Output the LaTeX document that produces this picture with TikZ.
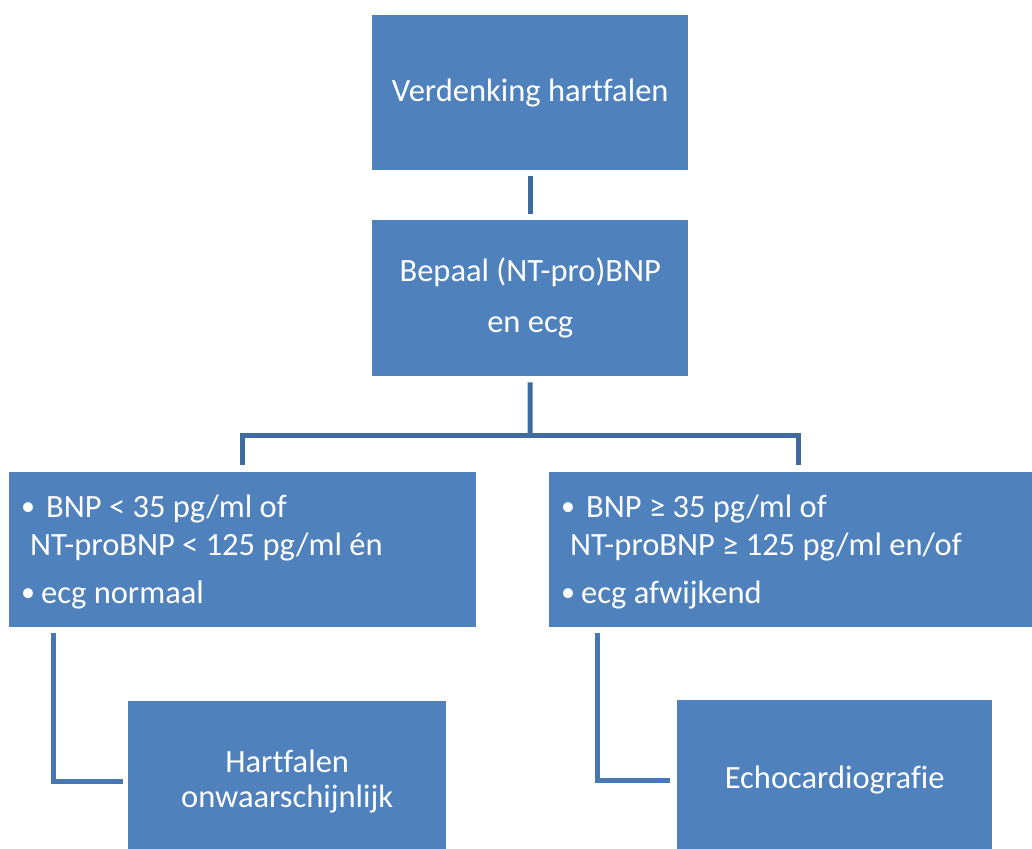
\documentclass[tikz,border=0pt]{standalone}
\usepackage{fontspec}
\setmainfont{Carlito}[Ligatures=NoCommon]
\usetikzlibrary{positioning}
\definecolor{boxblue}{HTML}{4F81BD}
\definecolor{lineblue}{HTML}{3F6B9E}
\definecolor{sideblue}{HTML}{4878B4}
\newcommand{\critdot}[1]{\makebox[#1][l]{\fontsize{28}{28}\selectfont\raisebox{2pt}{•}}}
\tikzset{
  stepbox/.style={rectangle, fill=boxblue, text=white, inner sep=0pt, align=center, font=\fontsize{32.5}{35}\selectfont},
  critbox/.style={rectangle, fill=boxblue, inner sep=0pt},
  crittext/.style={text=white, inner sep=0pt, align=left, font=\fontsize{32.5}{38}\selectfont},
  link/.style={draw=lineblue, line width=5pt},
  sidelink/.style={draw=sideblue, line width=5pt}
}

\begin{document}
\begin{tikzpicture}[x=1pt, y=-1pt]
  \useasboundingbox (0,0) rectangle (1032,848);
  \node[stepbox, anchor=north west, minimum width=316pt, minimum height=155pt] (suspect) at (372,15) {Verdenking hartfalen};
  \node[stepbox, anchor=north west, minimum width=316pt, minimum height=156pt, font=\fontsize{32.5}{51}\selectfont] (measure) at (372,220) {Bepaal (NT-pro)BNP\\en ecg};
  \node[critbox, anchor=north west, minimum width=467pt, minimum height=155pt] (low) at (9,472) {};
  \node[critbox, anchor=north west, minimum width=498pt, minimum height=155pt] (high) at (549,472) {};
  \node[crittext, anchor=base west] (lowtext) at ([xshift=12pt, yshift=-131pt]low.north west)
    {\critdot{25pt}BNP < 35 pg/ml of\\\hspace*{9pt}NT-proBNP < 125 pg/ml én\\[10pt]\critdot{20pt}ecg normaal};
  \node[crittext, anchor=base west] (hightext) at ([xshift=12pt, yshift=-131pt]high.north west)
    {\critdot{25pt}BNP ≥ 35 pg/ml of\\\hspace*{9pt}NT-proBNP ≥ 125 pg/ml en/of\\[10pt]\critdot{20pt}ecg afwijkend};
  \node[stepbox, anchor=north west, minimum width=318pt, minimum height=160pt] (unlikely) at (128,701) {Hartfalen\\onwaarschijnlijk};
  \node[stepbox, anchor=north west, minimum width=315pt, minimum height=160pt] (echo) at (677,700) {Echocardiografie};
  \coordinate (split) at (530,435);
  % connectors
  \draw[link, shorten <=6pt, shorten >=6pt] (suspect) -- (measure);
  \draw[link, shorten <=6pt] (measure.south) -- (split);
  \draw[link, shorten <=7pt, shorten >=7pt] (low.north) |- (split) -| (high.north);
  \draw[sidelink, shorten <=6pt, shorten >=5pt] ([xshift=44pt]low.south west) |- (unlikely.west);
  \draw[sidelink, shorten <=6pt, shorten >=7pt] ([xshift=48pt]high.south west) |- (echo.west);
\end{tikzpicture}
\end{document}
